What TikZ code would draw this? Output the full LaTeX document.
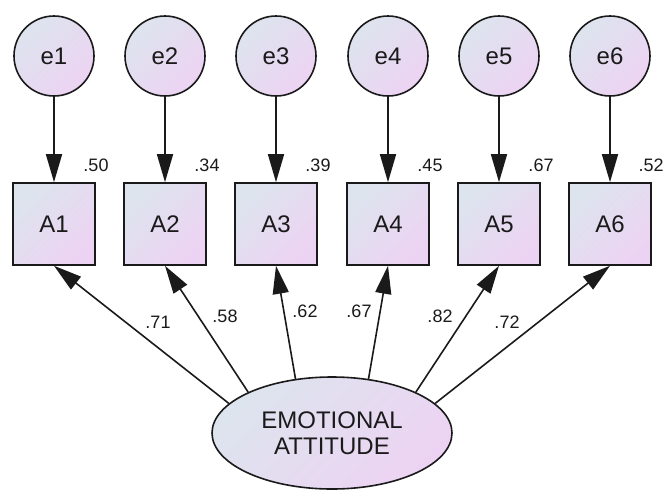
\documentclass[tikz,border=0pt]{standalone}
\usepackage{fontspec}
\setmainfont{Liberation Sans}
\usepackage{tikz}
\usetikzlibrary{shapes,arrows.meta,positioning}
\usepackage{xcolor}
\definecolor{shadeA}{HTML}{DDE4EE}
\definecolor{shadeB}{HTML}{EDD3F3}
\definecolor{ink}{HTML}{1A1A1A}

\begin{document}
\begin{tikzpicture}[x=1pt, y=-1pt,
  errc/.style={circle, draw=ink, line width=1.6pt, minimum size=80pt, inner sep=0pt, top color=shadeA, bottom color=shadeB, shading angle=45, text=ink, font=\fontsize{24}{26}\selectfont},
  obs/.style={rectangle, draw=ink, line width=1.6pt, minimum size=82pt, inner sep=0pt, top color=shadeA, bottom color=shadeB, shading angle=45, text=ink, font=\fontsize{24}{26}\selectfont},
  latent/.style={ellipse, draw=ink, line width=1.6pt, minimum width=240pt, minimum height=112pt, inner sep=0pt, align=center, top color=shadeA, bottom color=shadeB, shading angle=45, text=ink, font=\fontsize{24}{26.5}\selectfont},
  coef/.style={text=ink, inner sep=0pt, font=\fontsize{18}{20}\selectfont},
  pth/.style={draw=ink, line width=1.6pt, -{Triangle[length=28pt, width=16pt]}}
]
  \useasboundingbox (0,0) rectangle (663,490);
  % Error terms
  \node[errc] (e1) at (54, 56) {e1};
  \node[errc] (e2) at (165, 56) {e2};
  \node[errc] (e3) at (276, 56) {e3};
  \node[errc] (e4) at (388, 56) {e4};
  \node[errc] (e5) at (499, 56) {e5};
  \node[errc] (e6) at (610, 56) {e6};
  % Observed items
  \node[obs] (A1) at (54, 224) {A1};
  \node[obs] (A2) at (165, 224) {A2};
  \node[obs] (A3) at (276, 224) {A3};
  \node[obs] (A4) at (388, 224) {A4};
  \node[obs] (A5) at (499, 224) {A5};
  \node[obs] (A6) at (610, 224) {A6};
  % Latent factor
  \node[latent] (emo) at (332, 433) {EMOTIONAL\\ATTITUDE};
  % Squared multiple correlations
  \node[coef] (r1) at (96, 165) {.50};
  \node[coef] (r2) at (207, 165) {.34};
  \node[coef] (r3) at (318, 165) {.39};
  \node[coef] (r4) at (430, 165) {.45};
  \node[coef] (r5) at (541, 165) {.67};
  \node[coef] (r6) at (651, 165) {.52};
  % Error paths
  \draw[pth] (e1) -- (A1);
  \draw[pth] (e2) -- (A2);
  \draw[pth] (e3) -- (A3);
  \draw[pth] (e4) -- (A4);
  \draw[pth] (e5) -- (A5);
  \draw[pth] (e6) -- (A6);
  % Loadings
  \draw[pth] (emo.164) -- (A1.south);
  \draw[pth] (emo.154) -- (A2.south);
  \draw[pth] (emo.124) -- (A3.south);
  \draw[pth] (emo.56) -- (A4.south);
  \draw[pth] (emo.26) -- (A5.south);
  \draw[pth] (emo.16) -- (A6.south);
  \node[coef] (l1) at (158, 322) {.71};
  \node[coef] (l2) at (225, 316) {.58};
  \node[coef] (l3) at (305, 311) {.62};
  \node[coef] (l4) at (359, 311) {.67};
  \node[coef] (l5) at (440, 316) {.82};
  \node[coef] (l6) at (507, 322) {.72};
\end{tikzpicture}
\end{document}
